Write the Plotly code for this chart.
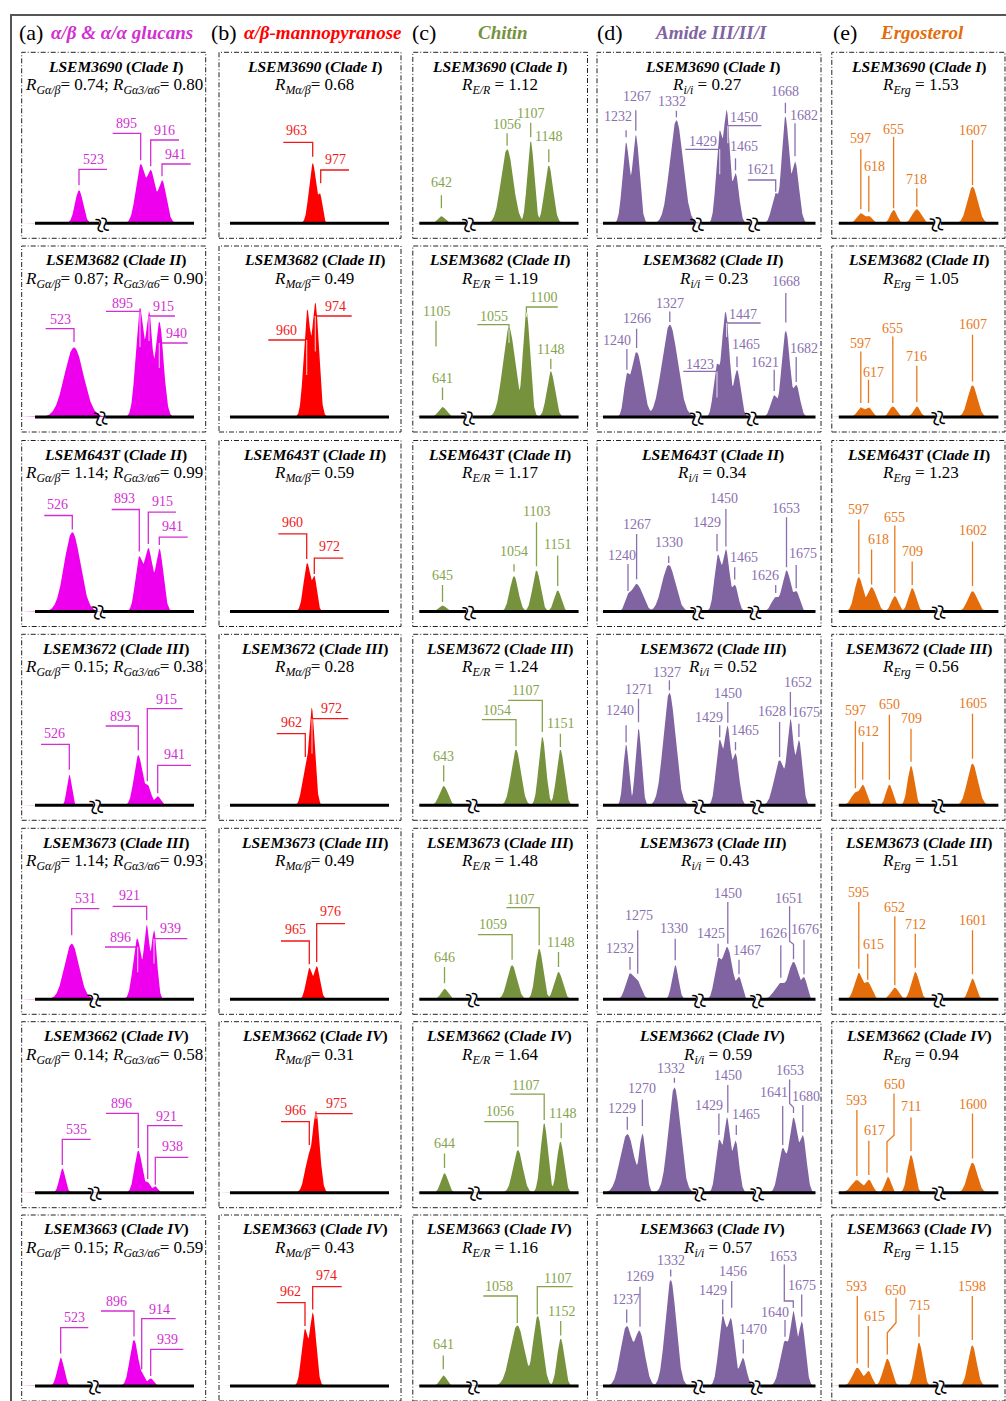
import numpy as np
import plotly.graph_objects as go

FIG_W, FIG_H = 1006, 1401

# ---------------- data ----------------
STRAINS = ["LSEM3690", "LSEM3682", "LSEM643T", "LSEM3672", "LSEM3673", "LSEM3662", "LSEM3663"]
CLADES = ["I", "II", "II", "III", "III", "IV", "IV"]

R_G_AB = ["0.74", "0.87", "1.14", "0.15", "1.14", "0.14", "0.15"]
R_G_36 = ["0.80", "0.90", "0.99", "0.38", "0.93", "0.58", "0.59"]
R_M_AB = ["0.68", "0.49", "0.59", "0.28", "0.49", "0.31", "0.43"]
R_ER = ["1.12", "1.19", "1.17", "1.24", "1.48", "1.64", "1.16"]
R_II = ["0.27", "0.23", "0.34", "0.52", "0.43", "0.59", "0.57"]
R_ERG = ["1.53", "1.05", "1.23", "0.56", "1.51", "0.94", "1.15"]

HEADERS = ["(a)", "(b)", "(c)", "(d)", "(e)"]
HEADER_TITLES = ["α/β & α/α glucans", "α/β-mannopyranose", "Chitin", "Amide III/II/I", "Ergosterol"]

# peaks per panel: (schematic position, intensity, width)
GLUCAN_PEAKS = [
    [(57.3, 33, 4.0), (119, 59, 4.8), (129, 53, 4.8), (140.3, 43, 4.4)],
    [(52.3, 69.6, 9.5), (118.3, 109, 4.2), (127.3, 105, 3.6), (137.6, 95, 4.2)],
    [(50.6, 79.3, 8.0), (117.6, 54.3, 3.9), (126.6, 63.3, 4.6), (137.6, 62.7, 4.0)],
    [(47.6, 30.6, 2.4), (116.6, 50, 4.2), (125.6, 20.7, 3.6), (136, 9, 3.0)],
    [(50, 55.6, 7.2), (115.6, 60.6, 4.2), (125, 74, 3.1), (132.3, 69, 2.9)],
    [(40.6, 24.3, 3.0), (116.6, 42, 3.8), (125.6, 11, 3.0), (133.3, 6.6, 2.6)],
    [(39, 28.3, 3.4), (112.3, 46, 4.2), (120.5, 11.6, 3.0), (129, 7.6, 3.0)],
]
MANNO_PEAKS = [
    [(93.7, 60, 3.6), (101, 29, 2.4)],
    [(88.3, 107, 3.5), (96.3, 114, 3.5)],
    [(88.3, 48.3, 3.6), (95.3, 35, 2.6)],
    [(86.5, 36, 3.4), (92.7, 97.3, 3.1)],
    [(90.3, 31.3, 3.2), (97.7, 33, 3.2)],
    [(90.3, 37.6, 4.2), (97, 81, 3.6)],
    [(86, 56.6, 3.4), (93.7, 73.3, 3.4)],
]
CHITIN_PEAKS = [
    [(28.6, 7, 3.6), (94.3, 74, 6.0), (117.9, 82, 3.4), (136, 57.6, 4.2)],
    [(29.7, 10, 4.0), (96.2, 89, 6.2), (113.6, 106, 3.6), (138, 45.6, 4.0)],
    [(29.7, 6, 3.6), (101.2, 35.3, 4.2), (123.7, 41, 4.0), (144.9, 21, 3.6)],
    [(30.9, 19.3, 4.2), (103.2, 55.6, 4.8), (129.5, 68.3, 3.6), (147.6, 55.6, 3.8)],
    [(31.7, 10.6, 3.6), (99.3, 34, 4.8), (126.4, 50.6, 3.8), (145.7, 27.3, 4.2)],
    [(31.7, 19.3, 3.6), (105.1, 42.6, 4.8), (131.4, 69.3, 3.6), (147.6, 51, 3.6)],
    [(30.5, 10.6, 3.4), (104.5, 60.6, 7.0), (124.9, 70, 4.8), (147.9, 47.3, 3.6)],
]
AMIDE_PEAKS = [
    [(29.1, 80.6, 3.6), (38.8, 88, 3.6), (79.4, 103, 6.6), (122.7, 91.6, 3.4), (129.6, 113, 3.4),
     (138.5, 50, 3.4), (178.7, 30, 3.8), (188.4, 106.6, 3.8), (198, 61.6, 3.8)],
    [(29.9, 40, 3.0), (39.6, 65, 6.0), (72.8, 92.3, 7.8), (120, 52, 3.4), (128.5, 105, 4.0),
     (140, 47, 3.6), (177.2, 21.6, 3.6), (188.8, 86, 4.2), (199.2, 32, 3.6)],
    [(31, 15, 3.0), (39.6, 27.6, 6.0), (71.7, 46.6, 6.6), (121.1, 56.6, 3.6), (128.9, 62, 3.6),
     (137.7, 26.6, 3.4), (178.7, 14.3, 4.2), (189.5, 41, 4.6), (199.2, 20, 3.4)],
    [(29.1, 60.6, 2.8), (41.5, 76.6, 3.0), (72.4, 112.6, 6.0), (122.7, 65, 3.6), (130.4, 79.3, 3.6),
     (138.5, 51.6, 3.4), (182.6, 45, 5.4), (193.4, 86, 3.6), (201.9, 65, 3.4)],
    [(33, 25.6, 4.2), (40, 19, 4.2), (78.2, 34, 3.2), (121.1, 39, 3.6), (130, 52.3, 5.4),
     (142, 22.3, 3.0), (183.8, 16.3, 6.0), (196.5, 37.3, 5.4), (207, 21.6, 3.0)],
    [(30.3, 58.6, 7.0), (45.4, 58.6, 3.4), (77.4, 105.3, 6.0), (122.3, 52.6, 3.4), (130, 75, 3.6),
     (138.5, 52, 3.4), (185.7, 44.3, 4.2), (196.5, 75, 4.8), (205.8, 56.6, 3.6)],
    [(29.7, 60, 6.0), (42.3, 55, 5.4), (73.7, 106, 5.4), (125.7, 69.3, 4.0), (133.7, 67.3, 4.0),
     (145.7, 28.3, 3.6), (188, 45, 4.8), (196.3, 74.3, 3.6), (204.7, 64, 3.6)],
]
ERGO_PEAKS = [
    [(29, 10, 4.0), (37, 7.3, 3.6), (61.8, 13.3, 3.4), (85, 14, 4.6), (140.7, 36.6, 5.2)],
    [(29, 9.6, 3.6), (36.7, 9.6, 3.6), (61, 10.6, 3.6), (85, 10.6, 3.4), (140.7, 31.6, 4.8)],
    [(27, 34.3, 4.2), (39.8, 24.3, 4.8), (63, 15.3, 3.6), (80.4, 23.3, 3.8), (140.7, 20.3, 4.8)],
    [(23.6, 12.6, 4.2), (30.9, 20.6, 3.6), (57.6, 20.6, 3.4), (79.2, 39.3, 3.4), (140.7, 41.6, 5.2)],
    [(27, 26.3, 4.2), (35.9, 17.3, 4.0), (63, 11.6, 4.2), (83.5, 27.3, 4.0), (140.7, 20.6, 3.6)],
    [(25.1, 12.6, 5.4), (37, 13, 3.6), (56, 16, 3.0), (79.2, 37.6, 3.6), (140.7, 30, 4.8)],
    [(25.5, 18.3, 4.8), (36.5, 15, 3.6), (55.5, 27.3, 4.2), (87.2, 43.3, 3.8), (140.5, 40.6, 4.2)],
]

# peak labels: (wavenumber, leader x, leader bottom, leader top, horizontal end or None, label x, label y)
# kinked leaders: (wavenumber, [path points], label x, label y)
GLUCAN_LABELS = [
    [("523", 57.3, 38, 54, 85.3, 71.3, 64), ("895", 119, 63, 90, 91, 105, 100),
     ("916", 129, 57, 83.3, 157.3, 143, 93), ("941", 140.3, 47, 59.3, 169, 154, 69)],
    [("523", 52.3, 75, 88.3, 24, 39, 98), ("895", 118.3, 70, 105.6, 84.3, 101, 114),
     ("915", 127.3, 76, 101, 153.3, 141.6, 110.6), ("940", 137.6, 49, 74, 166, 154.3, 83.3)],
    [("526", 50.6, 82, 96, 22.6, 36, 106.6), ("893", 117.6, 60, 102, 90, 102.6, 112.6),
     ("915", 126.6, 67.6, 99.3, 154.3, 141, 110), ("941", 137.6, 66.6, 74.3, 166, 151, 85.3)],
    [("526", 47.6, 35.6, 61, 19.3, 32.6, 71.6), ("893", 116.6, 55, 79.3, 84, 99, 89.3),
     ("915", 125.6, 24, 96.6, 161, 144.3, 105.6), ("941", 136, 12, 40, 169.3, 152.6, 50.6)],
    [("531", 50, 64, 90.6, 77.6, 63.3, 100.6), ("921", 125, 79, 93, 91, 107.6, 104),
     ("896", 116, 27, 52.3, 83.3, 98.3, 62.3), ("939", 132.3, 35.7, 60.6, 165.6, 149, 70.6)],
    [("535", 40.6, 27.6, 53.3, 69, 55, 63.3), ("896", 116.6, 44.6, 79.3, 84.3, 99.3, 89.3),
     ("921", 126, 13.7, 67, 161, 144.3, 76), ("938", 133.6, 8, 35.3, 166.6, 150.6, 46)],
    [("523", 39, 32.6, 58.3, 66.6, 52.3, 68.3), ("896", 112.3, 49.6, 75, 79.3, 95, 85),
     ("914", 120, 16.6, 67.3, 154, 137.6, 76.6), ("939", 129, 10, 36.6, 161.6, 146, 46.6)],
]
MANNO_LABELS = [
    [("963", 93.7, 66.6, 81, 64.3, 77.7, 92.6), ("977", 101.7, 40, 53.3, 130, 116, 64)],
    [("960", 87.7, 42, 77, 49.3, 67, 87), ("974", 96.3, 65.6, 101, 132.7, 116, 111)],
    [("960", 87.7, 52.6, 77.6, 59.3, 73.3, 88.6), ("972", 95.3, 37.6, 53.3, 124.3, 110, 65)],
    [("962", 86.3, 48.3, 71.6, 57.7, 72, 83.3), ("972", 93, 51.6, 86.6, 129.3, 112.7, 97.3)],
    [("965", 90.3, 35, 58.3, 62, 76, 69.6), ("976", 97.7, 37.3, 75.6, 126, 111.7, 88)],
    [("966", 90.3, 47.6, 71, 62, 76, 82.6), ("975", 97, 74, 79, 133.7, 117.7, 89)],
    [("962", 86, 60, 83.3, 57.7, 71.7, 95), ("974", 93.7, 76.6, 99.3, 122.7, 107.7, 110.6)],
]
CHITIN_LABELS = [
    [("642", 28.6, 15, 28, None, 28.6, 40.6), ("1056", 94.3, 77.6, 90, None, 94.3, 99),
     ("1107", 117.9, 86, 100.6, None, 117.9, 110), ("1148", 136, 61, 74, None, 136, 86.6)],
    [("1105", 23.2, 70.6, 96.3, None, 23.2, 105.6), ("641", 29.7, 17, 29.6, None, 29.7, 39),
     ("1055", 96.2, 74, 92.3, 64.5, 81, 100.6), ("1100", 113.6, 100, 110, 145, 131, 119.6),
     ("1148", 138, 48, 58.3, None, 138, 67.3)],
    [("645", 29.7, 9.6, 26.6, None, 29.7, 36), ("1054", 101.2, 40, 47.3, None, 101.2, 60),
     ("1103", 123.7, 45.3, 89.3, None, 123.7, 100), ("1151", 144.9, 25.6, 56, None, 144.9, 67)],
    [("643", 30.9, 23.7, 40, None, 30.9, 49.3), ("1054", 103.2, 59, 85.6, 69.2, 84.6, 95),
     ("1107", 129.5, 73.3, 105, 95.4, 112.8, 115), ("1151", 147.6, 58.3, 71.6, None, 147.6, 81.6)],
    [("646", 31.7, 16, 32.3, None, 31.7, 41.6), ("1059", 99.3, 39.6, 64.6, 65.3, 80, 75),
     ("1107", 126.4, 54, 91.6, 93.5, 107.8, 100), ("1148", 145.7, 32.3, 47.3, None, 147.6, 56.6)],
    [("644", 31.7, 24.7, 39.3, None, 31.7, 49.3), ("1056", 105.1, 46, 71, 71.5, 86.9, 81),
     ("1107", 131.4, 72.6, 98.6, 97.4, 112.8, 107.6), ("1148", 148.4, 54.4, 70, None, 149.5, 79.3)],
    [("641", 30.5, 16.7, 30.6, None, 30.5, 41.6), ("1058", 104.5, 63, 90, 70.5, 86.5, 99.3),
     ("1107", 124.5, 71.6, 99.3, 159.9, 144.5, 107.3), ("1152", 147.9, 50.6, 65, None, 149, 75)],
]
AMIDE_LABELS = [
    [("1232", 29.1, 86, 93, None, 21, 107), ("1267", 38.8, 92.6, 113, None, 39.5, 126.6),
     ("1332", 79.4, 106, 112.6, None, 75, 121.6), ("1429", 122.7, 49, 74, 88.3, 105.5, 81.6),
     ("1450", 130.8, 80, 97.6, 164.4, 147, 106), ("1465", 138.5, 53, 65, None, 147, 76.6),
     ("1621", 178.7, 31.6, 43.3, 150.9, 164.4, 54), ("1668", 188.4, 110, 120.6, None, 187.6, 131.6),
     ("1682", 198, 67, 100, None, 207, 108)],
    [("1240", 29.9, 47.3, 68, None, 19.5, 76.3), ("1266", 39.6, 69, 88.3, None, 40, 98.3),
     ("1327", 72.8, 95, 105.6, None, 72.8, 113.3), ("1423", 120, 19.6, 45.6, 86.3, 102.6, 53),
     ("1447", 129.6, 80, 94, 163.6, 146.3, 102.3), ("1465", 140, 50, 60.6, None, 149, 73),
     ("1621", 177.2, 26, 47.3, None, 168.3, 55), ("1668", 188.8, 94.6, 124, None, 188.8, 135.6),
     ("1682", 199.2, 35, 60, None, 207, 69)],
    [("1240", 31, 20.6, 47.6, None, 25.3, 56), ("1267", 39.6, 32.3, 77.6, None, 39.6, 86.6),
     ("1330", 71.7, 48.6, 55.3, None, 71.7, 68.6), ("1429", 120, 60.3, 77.6, None, 110.3, 89.3),
     ("1450", 128.9, 65, 102.6, None, 127, 113.3), ("1465", 137.7, 32, 44.3, None, 147, 54.3),
     ("1626", 178.7, 18.6, 26.6, None, 168.3, 36), ("1653", 189.5, 44.3, 94.3, None, 189, 103.3),
     ("1675", 199.2, 23.3, 46.6, None, 205.8, 57.6)],
    [("1240", 29.1, 63, 80, None, 22.6, 95), ("1271", 41.5, 83, 106.6, None, 41.5, 115.6),
     ("1327", 72.4, 115, 125, None, 70, 133.3), ("1429", 122.7, 68, 80, None, 112.2, 88.3),
     ("1450", 130.8, 82.6, 103.3, None, 130.8, 111.6), ("1465", 138.5, 55, 63.3, None, 147.8, 75),
     ("1628", 182.6, 48.3, 83.3, None, 174.9, 94), ("1652", 193.4, 89.6, 113.3, None, 201, 122.6),
     ("1675", 201.9, 68.3, 81.6, None, 208.9, 92.6)],
    [("1232", 33, 29.6, 42.3, None, 22.6, 51.3), ("1275", 40.7, 25.6, 69, None, 41.5, 84),
     ("1330", 78.2, 39, 60.6, None, 77.4, 70.6), ("1425", 121.1, 42.3, 55.6, None, 114.2, 65.6),
     ("1450", 130.8, 55.6, 97.3, None, 130.8, 106.3), ("1467", 142, 25, 39.6, None, 150, 49),
     ("1626", 183.8, 21.6, 54, None, 176, 65.6),
     ("1651", [(196.5, 40), (196.5, 55), (192.6, 58), (192.6, 93)], 192.3, 101.3),
     ("1676", 207, 25, 59.6, None, 208, 69.6)],
    [("1229", 30.3, 63, 76, None, 24.5, 84.3), ("1270", 45.4, 66.7, 93.3, None, 45.4, 104.3),
     ("1332", 77.4, 110, 115, None, 73.6, 124.3), ("1429", 121.9, 57.6, 79.3, None, 111.5, 87.6),
     ("1450", 130.8, 80, 107.6, None, 130.8, 117.6), ("1465", 139.3, 57.6, 67.6, None, 149, 78.3),
     ("1641", 185.7, 47.6, 86.6, None, 177.2, 100),
     ("1653", [(196.5, 79.6), (196.5, 85.3), (192.6, 89.3), (192.6, 113.3)], 193.4, 122.6),
     ("1680", 205.8, 60.7, 87.6, None, 208.9, 96.6)],
    [("1237", 29.7, 63.3, 76.6, None, 29, 86.6), ("1269", 43, 59.3, 99.3, None, 43, 109.3),
     ("1332", 73.7, 109.6, 116.6, None, 73.7, 125.6), ("1429", 125.7, 71.6, 86.6, None, 116.3, 96),
     ("1456", 134.7, 78.3, 105, None, 135.7, 115), ("1470", 146.3, 32.6, 46.6, None, 155.7, 56.6),
     ("1640", 188, 49.3, 66, None, 178, 74),
     ("1653", [(196.3, 78), (196.3, 85), (187.3, 85), (187.3, 121.6)], 186.3, 130),
     ("1675", 204.7, 69.3, 91.6, None, 204.7, 100.6)],
]
ERGO_LABELS = [
    [("597", 29, 14, 74, None, 29, 85), ("618", 37, 11.6, 47.6, None, 43, 56.6),
     ("655", 61.8, 15, 86.6, None, 62, 94.3), ("718", 85, 16.6, 35, None, 85, 44.3),
     ("1607", 140.7, 38.3, 83.3, None, 140.7, 92.6)],
    [("597", 29, 14, 65.6, None, 29, 74), ("617", 36.7, 14, 37.3, None, 41.7, 45),
     ("655", 61, 14, 80.6, None, 61, 88.3), ("716", 85, 15, 51.3, None, 85, 60.6),
     ("1607", 140.7, 35.6, 82.3, None, 140.7, 92.3)],
    [("597", 27, 37.6, 92, None, 27, 102), ("618", 39.8, 27, 62, None, 46.4, 71.6),
     ("655", 63, 18.6, 86, None, 63, 94.3), ("709", 80.4, 26.6, 50, None, 80.4, 60),
     ("1602", 140.7, 25.6, 70, None, 140.7, 81)],
    [("597", 23.6, 17, 84, None, 23.6, 95), ("612", 30.9, 25.6, 63.3, None, 37, 74),
     ("650", 57.6, 25.6, 90.6, None, 57.6, 100.6), ("709", 79.2, 43.6, 76.6, None, 79.2, 86.6),
     ("1605", 140.7, 46.6, 91.6, None, 140.7, 101.6)],
    [("595", 27, 30.6, 97.3, None, 27, 107.3), ("615", 35.9, 19.6, 45.6, None, 41.7, 54.6),
     ("652", 63, 14, 83, None, 63, 91.6), ("712", 83.5, 31.6, 65.6, None, 83.5, 75),
     ("1601", 140.7, 25, 69, None, 140.7, 79)],
    [("593", 25.1, 16.7, 82.6, None, 25.1, 92.6), ("617", 37, 17.7, 52, None, 42.9, 62),
     ("650", [(55.2, 20), (55.2, 51), (62.2, 57.6), (62.2, 99.3)], 63, 108.6),
     ("711", 79.2, 41.6, 75.3, None, 79.2, 86), ("1600", 140.7, 34.3, 79.3, None, 140.7, 88.6)],
    [("593", 25.5, 22.6, 90, None, 24.9, 99.3), ("615", 36.5, 18.3, 60, None, 42.2, 69.3),
     ("650", [(55.5, 31.6), (55.5, 53.3), (64.2, 63.3), (64.2, 88.3)], 63.2, 96),
     ("715", 87.2, 49.3, 71.6, None, 87.2, 80.6), ("1598", 140.5, 46, 90, None, 140.5, 99.3)],
]

PEAKS = [GLUCAN_PEAKS, MANNO_PEAKS, CHITIN_PEAKS, AMIDE_PEAKS, ERGO_PEAKS]
LABELS = [GLUCAN_LABELS, MANNO_LABELS, CHITIN_LABELS, AMIDE_LABELS, ERGO_LABELS]

# ---------------- layout / styles ----------------
COL_BOX = [(21.7, 205.7), (219, 401), (412.8, 587.5), (597, 821), (831.8, 1005)]
ROW_TOP = [52.3, 246, 440.5, 634.3, 828.3, 1021.7, 1215]
BOX_H, BASE_OFF = 186, 171
BASELINE_X = [(13.3, 172.3), (11, 170), (6.5, 165.8), (6, 218.5), (7, 166.6)]
BREAKS = [
    [[81], [80], [77.6], [75], [73.3], [73.3], [73.3]],
    [[], [], [], [], [], [], []],
    [[56.8], [56], [56.8], [60.6], [60.6], [62.6], [61.2]],
    [[100.6, 156.7], [100.6, 155.5], [100.6, 157.9], [102.6, 160.5], [102.6, 160.5], [102.6, 160.5], [102.3, 159.7]],
    [[105.5], [107.4], [107.4], [107.4], [107.4], [107.4], [108.9]],
]
TITLE_X = [94, 95.5, 86.5, 115, 87]
RATIO_X = [[92] * 7, [95] * 7, [87] * 7, [110, 116, 115, 125, 117, 120, 121], [89] * 7]
FILL = ["#EE00EE", "#FF0000", "#76923C", "#8064A2", "#E46C0A"]
TXT = ["#D22FD2", "#F01818", "#86A34C", "#8A6FB0", "#E8781A"]
HEAD_COL = ["#D22FD2", "#FF0000", "#76923C", "#8064A2", "#E46C0A"]
HEAD_POS = [(31.5, 121.5), (224, 322.5), (424, 503), (610, 711), (845, 922)]
SERIF = "Liberation Serif"


def ratio_text(c, r):
    if c == 0:
        return (f"<i>R</i><sub><i>Gα/β</i></sub>= {R_G_AB[r]}; "
                f"<i>R</i><sub><i>Gα3/α6</i></sub>= {R_G_36[r]}")
    if c == 1:
        return f"<i>R</i><sub><i>Mα/β</i></sub>= {R_M_AB[r]}"
    if c == 2:
        return f"<i>R</i><sub><i>E/R</i></sub> = {R_ER[r]}"
    if c == 3:
        return f"<i>R</i><sub><i>i/i</i></sub> = {R_II[r]}"
    return f"<i>R</i><sub><i>Erg</i></sub> = {R_ERG[r]}"


fig = go.Figure()
layout = {}
shapes = []
annotations = []

for r in range(7):
    for c in range(5):
        k = r * 5 + c + 1
        xs_name = "x" if k == 1 else f"x{k}"
        ys_name = "y" if k == 1 else f"y{k}"
        L, R = COL_BOX[c]
        T = ROW_TOP[r]
        B = T + BOX_H
        base = T + BASE_OFF
        W = R - L
        layout["xaxis" if k == 1 else f"xaxis{k}"] = dict(
            domain=[L / FIG_W, R / FIG_W], range=[0, W], visible=False,
            fixedrange=True, anchor=ys_name)
        layout["yaxis" if k == 1 else f"yaxis{k}"] = dict(
            domain=[(FIG_H - B) / FIG_H, (FIG_H - T) / FIG_H],
            range=[-(B - base), base - T], visible=False, fixedrange=True, anchor=xs_name)

        # peak envelope: overlapping bands combined as a quadratic envelope
        xg = np.arange(0, W + 0.25, 0.25)
        acc = np.zeros_like(xg)
        for (px, ph, pw) in PEAKS[c][r]:
            acc += (ph * np.exp(-0.5 * ((xg - px) / pw) ** 2)) ** 2
        yg = np.sqrt(acc)

        # leader lines (coloured, beneath the peaks) and their pale parts inside peaks
        lx_all, ly_all, wx, wy = [], [], [], []
        for lab in LABELS[c][r]:
            if isinstance(lab[1], list):
                pts = lab[1]
                tx, ty = lab[2], lab[3]
            else:
                _, x, y0, y1, xe, tx, ty = lab
                pts = [(x, y0), (x, y1)] + ([(xe, y1)] if xe is not None else [])
            lx_all += [p[0] for p in pts] + [None]
            ly_all += [p[1] for p in pts] + [None]
            vx, vy0, vy1 = pts[0][0], pts[0][1], pts[1][1]
            env = float(np.interp(vx, xg, yg)) - 1.5
            top_in = min(vy1, env)
            if top_in > vy0 + 1:
                wx += [vx, vx, None]
                wy += [vy0, top_in, None]
            annotations.append(dict(
                x=tx, y=ty, xref=xs_name, yref=ys_name, text=lab[0], showarrow=False,
                xanchor="center", yanchor="middle",
                font=dict(family=SERIF, size=14, color=TXT[c])))
        fig.add_trace(go.Scatter(
            x=lx_all, y=ly_all, mode="lines", xaxis=xs_name, yaxis=ys_name,
            line=dict(color=TXT[c], width=1.3), hoverinfo="skip", showlegend=False))

        fig.add_trace(go.Scatter(
            x=xg, y=yg, mode="lines", fill="tozeroy", fillcolor=FILL[c],
            line=dict(width=0, color=FILL[c]), xaxis=xs_name, yaxis=ys_name,
            hoverinfo="skip", showlegend=False))
        if wx:
            fig.add_trace(go.Scatter(
                x=wx, y=wy, mode="lines", xaxis=xs_name, yaxis=ys_name,
                line=dict(color="rgba(255,255,255,0.75)", width=1.1),
                hoverinfo="skip", showlegend=False))

        # baseline with breaks
        bx0, bx1 = BASELINE_X[c]
        edges = [bx0]
        for b in BREAKS[c][r]:
            edges += [b - 3.5, b + 3.5]
        edges.append(bx1)
        for i in range(0, len(edges), 2):
            shapes.append(dict(type="line", xref=xs_name, yref=ys_name,
                               x0=edges[i], x1=edges[i + 1], y0=0, y1=0,
                               line=dict(color="black", width=3)))
        for b in BREAKS[c][r]:
            annotations.append(dict(
                x=b, y=-1, xref=xs_name, yref=ys_name, text="≈", showarrow=False,
                textangle=78, xanchor="center", yanchor="middle",
                font=dict(family=SERIF, size=30, color="black")))

        # dash-dot panel box
        shapes.append(dict(type="rect", xref=f"{xs_name} domain", yref=f"{ys_name} domain",
                           x0=0, x1=1, y0=0, y1=1,
                           line=dict(color="#222222", width=1, dash="5px,2px,1px,2px")))

        # title + ratio
        annotations.append(dict(
            x=TITLE_X[c], y=BASE_OFF - 14.4, xref=xs_name, yref=ys_name,
            text=f"<b><i>{STRAINS[r]}</i> (<i>Clade {CLADES[r]}</i>)</b>",
            showarrow=False, xanchor="center", yanchor="middle",
            font=dict(family=SERIF, size=15.5, color="black")))
        annotations.append(dict(
            x=RATIO_X[c][r], y=BASE_OFF - 34, xref=xs_name, yref=ys_name, text=ratio_text(c, r),
            showarrow=False, xanchor="center", yanchor="middle",
            font=dict(family=SERIF, size=17, color="black")))

# column headers
for c in range(5):
    hx, tx = HEAD_POS[c]
    annotations.append(dict(x=hx / FIG_W, y=1 - 33 / FIG_H, xref="paper", yref="paper",
                            text=HEADERS[c], showarrow=False, xanchor="center", yanchor="middle",
                            font=dict(family=SERIF, size=22, color="black")))
    annotations.append(dict(x=tx / FIG_W, y=1 - 33 / FIG_H, xref="paper", yref="paper",
                            text=f"<b><i>{HEADER_TITLES[c]}</i></b>", showarrow=False,
                            xanchor="center", yanchor="middle",
                            font=dict(family=SERIF, size=19, color=HEAD_COL[c])))

# outer frame
shapes.append(dict(type="rect", xref="paper", yref="paper",
                   x0=11 / FIG_W, x1=1.02, y0=-0.02, y1=1 - 15 / FIG_H,
                   line=dict(color="#555555", width=2)))

fig.update_layout(
    width=FIG_W, height=FIG_H, margin=dict(l=0, r=0, t=0, b=0),
    paper_bgcolor="white", plot_bgcolor="white", showlegend=False,
    shapes=shapes, annotations=annotations, **layout)

fig.write_html("out.html", config={"displayModeBar": False},
               post_script="document.body.style.margin='0px';document.body.style.overflow='hidden';")
